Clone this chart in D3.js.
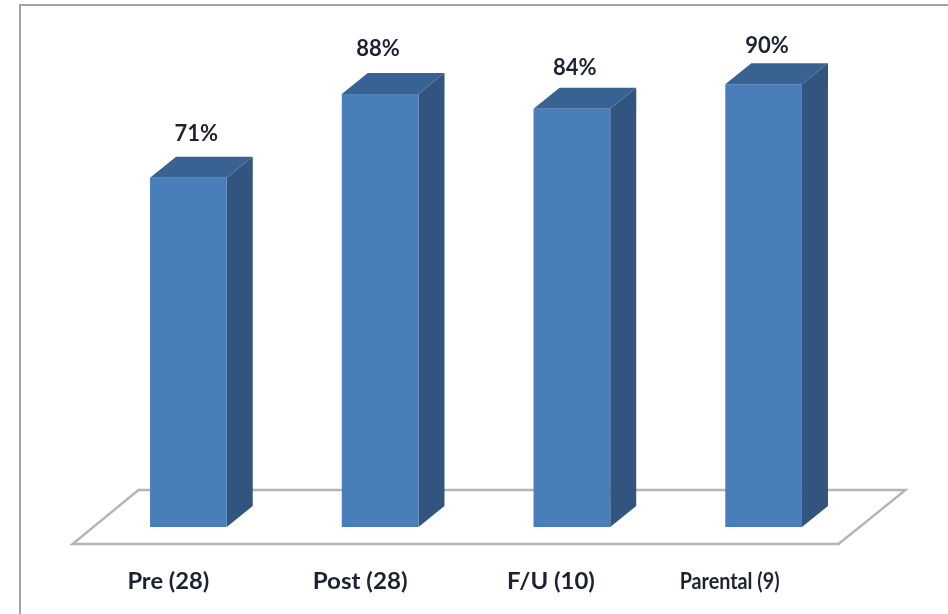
<!DOCTYPE html>
<html>
<head>
<meta charset="utf-8">
<title>Bar chart</title>
<script src="https://d3js.org/d3.v7.min.js"></script>
<style>
    body { margin: 0; background: #fff; }
    svg { display: block; }
    text { font-family: Lato, "Open Sans", sans-serif; font-weight: 700; fill: #1f2430; }
</style>
</head>
<body>
<div id="chart"></div>
<script>
const categories = ["Pre (28)", "Post (28)", "F/U (10)", "Parental (9)"];
// bar heights, the printed label of the third bar is a bit lower
const values = [71, 88, 85, 90];
const valueLabels = ["71%", "88%", "84%", "90%"];

const width = 948, height = 614;
const depthX = 26, depthY = 21;

// hand placed labels, they do not sit regularly under/over the bars
const valueNudgeX = [8, -2, 3, 3.5];
const valueNudgeY = [-37, -38, -34, -31];
const categoryNudgeX = [-20, -20, -21, -34];
const categoryWidths = [82, 95, 88, 100];

const svg = d3.select("#chart").append("svg")
    .attr("width", width)
    .attr("height", height);

// the reference is a slightly soft scan
svg.append("defs").append("filter")
    .attr("id", "soft")
    .append("feGaussianBlur")
    .attr("stdDeviation", 0.6);

const root = svg.append("g").attr("filter", "url(#soft)");

const x = d3.scaleBand()
    .domain(categories)
    .range([92.5, 859.5])
    .paddingInner(0.6)
    .paddingOuter(0.3);

const y = d3.scaleLinear()
    .domain([0, 100])
    .range([527, 35]);

// frame, only top and left show in the crop
root.append("path")
    .attr("d", d3.line()([[20, height], [20, 5], [width, 5]]))
    .attr("fill", "none")
    .attr("stroke", "#a3a3a3")
    .attr("stroke-width", 2);

// floor
const floorLeft = x.range()[0] - 20, floorRight = x.range()[1] - 21;
root.append("path")
    .attr("d", d3.line()([
        [floorLeft, y(0) + 17],
        [floorRight, y(0) + 17],
        [floorRight + 67, y(0) - 37],
        [floorLeft + 66, y(0) - 37]
    ]) + "Z")
    .attr("fill", "#fff")
    .attr("stroke", "#b4b4b4")
    .attr("stroke-width", 2.4);

const bars = root.selectAll("g.bar")
    .data(categories)
    .enter()
    .append("g")
    .attr("class", "bar");

const line = d3.line();

// side face
bars.append("path")
    .attr("fill", "#32547f")
    .attr("d", (d, i) => {
        const r = x(d) + x.bandwidth();
        return line([[r, y(values[i])], [r + depthX, y(values[i]) - depthY], [r + depthX, y(0) - depthY], [r, y(0)]]) + "Z";
    });

// top face
bars.append("path")
    .attr("fill", "#396292")
    .attr("d", (d, i) => {
        const l = x(d), r = l + x.bandwidth(), t = y(values[i]);
        return line([[l, t], [l + depthX, t - depthY], [r + depthX, t - depthY], [r, t]]) + "Z";
    });

// front face
bars.append("rect")
    .attr("fill", "#4a7ebb")
    .attr("x", d => x(d))
    .attr("width", x.bandwidth())
    .attr("y", (d, i) => y(values[i]))
    .attr("height", (d, i) => y(0) - y(values[i]));

// value labels
bars.append("text")
    .attr("x", (d, i) => x(d) + x.bandwidth() / 2 + valueNudgeX[i])
    .attr("y", (d, i) => y(values[i]) + valueNudgeY[i])
    .attr("text-anchor", "middle")
    .attr("font-size", 22)
    .text((d, i) => valueLabels[i]);

// category labels
bars.append("text")
    .attr("x", (d, i) => x(d) + x.bandwidth() / 2 + categoryNudgeX[i])
    .attr("y", 589)
    .attr("text-anchor", "middle")
    .attr("font-size", 22)
    .attr("textLength", (d, i) => categoryWidths[i])
    .attr("lengthAdjust", "spacingAndGlyphs")
    .text(d => d);
</script>
</body>
</html>
